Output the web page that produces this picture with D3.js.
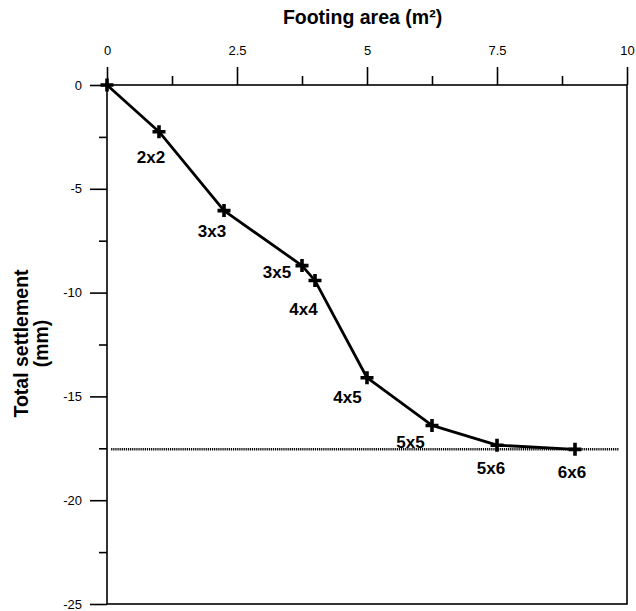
<!DOCTYPE html>
<html>
<head>
<meta charset="utf-8">
<script src="https://cdn.jsdelivr.net/npm/d3@7/dist/d3.min.js"></script>
<style>
  html, body { margin: 0; padding: 0; background: #fff; }
  svg { display: block; font-family: "Liberation Sans", Arial, Helvetica, sans-serif; }
</style>
</head>
<body>
<svg id="chart" width="636" height="611"></svg>
<script>
// Footing sizes, their area (scaled) and measured total settlement
const footings   = ["", "2x2", "3x3", "3x5", "4x4", "4x5", "5x5", "5x6", "6x6"];
const areas      = [0, 1, 2.25, 3.75, 4, 5, 6.25, 7.5, 9];
const settlement = [0, -2.25, -6.05, -8.7, -9.42, -14.1, -16.4, -17.35, -17.55];

// Horizontal reference level (limiting settlement)
const limitLevel = -17.55;
const limitSpan  = [0.08, 9.84];

// Axis ticks
const xMajorTicks = [0, 2.5, 5, 7.5, 10];
const xMinorTicks = [1.25, 3.75, 6.25, 8.75];
const yMajorTicks = [0, -5, -10, -15, -20, -25];
const yMinorTicks = [-2.5, -7.5, -12.5, -17.5, -22.5];

// Label nudges (px) from each point to the label's baseline centre
const labelNudge = [[0, 0], [-8, 31], [-12, 26], [-25, 12], [-11.5, 34], [-19.5, 25.5], [-21.5, 23], [-6, 28.5], [-3, 28.5]];

const svg = d3.select("#chart");
const m = { left: 107, right: 627, top: 85, bottom: 604 };

const x = d3.scaleLinear().domain([0, 10]).range([m.left, m.right]);
const y = d3.scaleLinear().domain([0, -25]).range([m.top, m.bottom]);
const fmt = d => String(d);

// Frame
svg.append("rect")
  .attr("x", m.left).attr("y", m.top)
  .attr("width", m.right - m.left).attr("height", m.bottom - m.top)
  .attr("fill", "none").attr("stroke", "#000").attr("stroke-width", 1.6);

// Top axis
const gx = svg.append("g").attr("transform", `translate(0,${m.top})`)
  .call(d3.axisTop(x).tickValues(xMajorTicks).tickSize(18).tickPadding(12).tickFormat(fmt));
gx.select(".domain").remove();
gx.selectAll(".tick line").attr("stroke-width", 1.6);
gx.selectAll(".tick text").attr("font-size", 13).attr("font-family", "Liberation Sans, Arial, sans-serif").attr("fill", "#000");
svg.append("g").attr("transform", `translate(0,${m.top})`)
  .call(d3.axisTop(x).tickValues(xMinorTicks).tickSize(9).tickFormat(""))
  .call(g => g.select(".domain").remove())
  .selectAll(".tick line").attr("stroke-width", 1.6);

// Left axis
const gy = svg.append("g").attr("transform", `translate(${m.left},0)`)
  .call(d3.axisLeft(y).tickValues(yMajorTicks).tickSize(17).tickPadding(8).tickFormat(fmt));
gy.select(".domain").remove();
gy.selectAll(".tick line").attr("stroke-width", 1.6);
gy.selectAll(".tick text").attr("font-size", 13).attr("font-family", "Liberation Sans, Arial, sans-serif").attr("fill", "#000");
svg.append("g").attr("transform", `translate(${m.left},0)`)
  .call(d3.axisLeft(y).tickValues(yMinorTicks).tickSize(8).tickFormat(""))
  .call(g => g.select(".domain").remove())
  .selectAll(".tick line").attr("stroke-width", 1.6);

// Axis titles
svg.append("text")
  .attr("x", 362.5).attr("y", 24)
  .attr("text-anchor", "middle").attr("font-weight", "bold").attr("font-size", 19.5)
  .text("Footing area (m²)");

const yTitle = svg.append("text")
  .attr("transform", `translate(28,343.5) rotate(-90)`)
  .attr("text-anchor", "middle").attr("font-weight", "bold").attr("font-size", 19.5);
yTitle.append("tspan").attr("x", 0).attr("dy", 0).text("Total settlement");
yTitle.append("tspan").attr("x", 0).attr("dy", 20).text("(mm)");

// Limit line
svg.append("line")
  .attr("x1", x(limitSpan[0])).attr("x2", x(limitSpan[1]))
  .attr("y1", y(limitLevel)).attr("y2", y(limitLevel))
  .attr("stroke", "#000").attr("stroke-width", 2.5)
  .attr("stroke-dasharray", "1.2,0.9");

// Settlement curve
const pts = areas.map((a, i) => ({ a, s: settlement[i], name: footings[i], nudge: labelNudge[i] }));
svg.append("path")
  .datum(pts)
  .attr("fill", "none").attr("stroke", "#000").attr("stroke-width", 2.8)
  .attr("stroke-linejoin", "round")
  .attr("d", d3.line().x(d => x(d.a)).y(d => y(d.s)));

// Bold plus markers
const plus = {
  draw(ctx) {
    const h = 6.5, w = 1.8;
    ctx.moveTo(-h, -w); ctx.lineTo(-w, -w); ctx.lineTo(-w, -h); ctx.lineTo(w, -h);
    ctx.lineTo(w, -w); ctx.lineTo(h, -w); ctx.lineTo(h, w); ctx.lineTo(w, w);
    ctx.lineTo(w, h); ctx.lineTo(-w, h); ctx.lineTo(-w, w); ctx.lineTo(-h, w);
    ctx.closePath();
  }
};
svg.append("g").selectAll("path")
  .data(pts).join("path")
  .attr("transform", d => `translate(${x(d.a)},${y(d.s)})`)
  .attr("d", d3.symbol().type(plus))
  .attr("fill", "#000");

// Footing labels
svg.append("g").selectAll("text")
  .data(pts.filter(d => d.name)).join("text")
  .attr("x", d => x(d.a) + d.nudge[0])
  .attr("y", d => y(d.s) + d.nudge[1])
  .attr("text-anchor", "middle").attr("font-weight", "bold").attr("font-size", 17)
  .text(d => d.name);
</script>
</body>
</html>
